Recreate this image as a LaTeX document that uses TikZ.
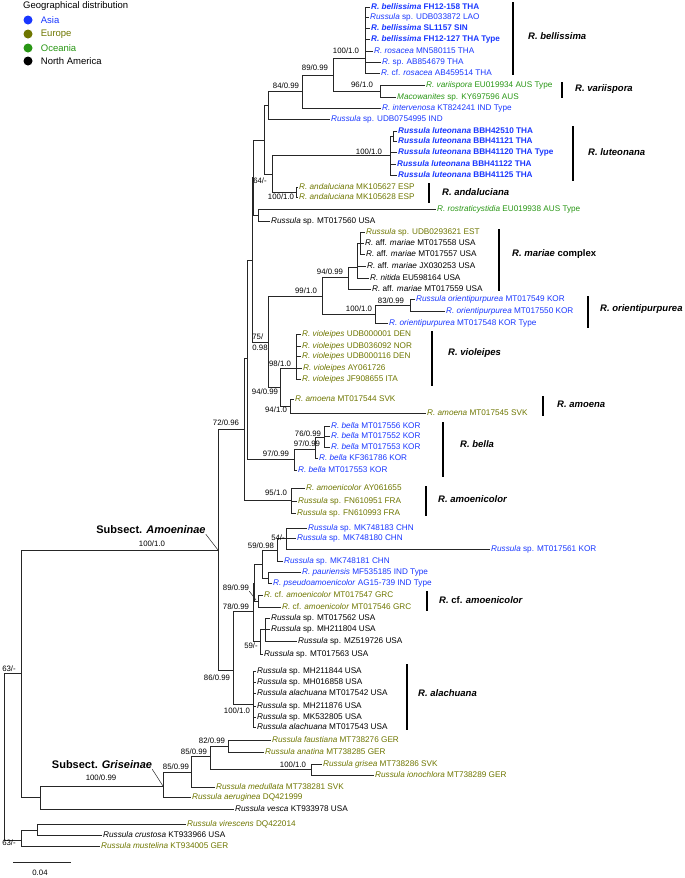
\documentclass[tikz,border=0pt]{standalone}
\usepackage{fontspec}
\setmainfont{Liberation Sans}
\usepackage{tikz}
\usetikzlibrary{positioning}

\definecolor{asiac}{RGB}{25,55,255}
\definecolor{europec}{RGB}{110,118,0}
\definecolor{oceaniac}{RGB}{40,150,20}

\begin{document}
\begin{tikzpicture}[x=1pt, y=-1pt]
        \tikzstyle{every node} = [font=\fontsize{8.2}{9.8}\selectfont]
        \tikzstyle{leaf} = [anchor=west, inner sep=1pt, text height=5.9pt, text depth=1.7pt]
        \tikzstyle{asia} = [leaf, text=asiac]
        \tikzstyle{asiab} = [leaf, text=asiac, font=\fontsize{8.2}{9.8}\selectfont\bfseries]
        \tikzstyle{euro} = [leaf, text=europec]
        \tikzstyle{ocea} = [leaf, text=oceaniac]
        \tikzstyle{amer} = [leaf, text=black]
        \tikzstyle{branch} = [draw=black!85, line width=0.7pt]
        \tikzstyle{supp} = [inner sep=0pt, font=\fontsize{7.8}{11}\selectfont]
        \tikzstyle{bar} = [line width=2.6pt]
        \tikzstyle{clade} = [anchor=west, inner sep=0pt, font=\fontsize{9.5}{11}\selectfont\bfseries\itshape]
        \tikzstyle{subsect} = [inner sep=0pt, font=\fontsize{11}{13}\selectfont\bfseries]
        \tikzstyle{dot} = [circle, inner sep=0pt, minimum size=9pt]

        \useasboundingbox (0,0) rectangle (685,878);

        \foreach \n/\x/\y in {bel/365/58, var/380/91, n89/333/75, n84/302/91, n268/268/105,
            lutA/393/136, lut/390/155, nand/296/192, n272/272/174, n264/264/140, n258/258/215,
            nx/253/177, mA/360/243, mar/357/267, n94/348/277, n83/410/305, nor/375/314,
            n99/322/296, vio/296/368, amo/290/406, n94b/280/387, n75/268/342, ny/252/260,
            n76/324/437, n97a/315/449, n97b/294/459, n247/247/358, amc/291/500, n244/244/429,
            n54/286/538, n59/277/550, pp/268/578, nd/262/564, cfa/258/601, n89b/254/583,
            nu1/265/629, nu/260/641, n78/253/611, ala/253/704, n86/233/670, n218/218/550,
            n82/228/746, ngr1/311/769, n85b/210/756, n85a/191/772, ngr/163/786, g0/40/797,
            nin/21/673, vc/37/830, og/21/840, root/4/757}
            \coordinate (\n) at (\x,\y);

        \foreach \n/\x/\y/\s/\t in {
            b1/370/7/asiab/{\textit{R. bellissima} FH12-158 THA},
            b2/369/17/asia/{\textit{Russula} sp. UDB033872 LAO},
            b3/370/28/asiab/{\textit{R. bellissima} SL1157 SIN},
            b4/370/39/asiab/{\textit{R. bellissima} FH12-127 THA Type},
            b5/373/51/asia/{\textit{R. rosacea} MN580115 THA},
            b6/381/62/asia/{\textit{R.} sp. AB854679 THA},
            b7/380/73/asia/{\textit{R.} cf. \textit{rosacea} AB459514 THA},
            v1/425/85/ocea/{\textit{R. variispora} EU019934 AUS Type},
            v2/396/97/ocea/{\textit{Macowanites} sp. KY697596 AUS},
            i1/381/108/asia/{\textit{R. intervenosa} KT824241 IND Type},
            i2/330/119/asia/{\textit{Russula} sp. UDB0754995 IND},
            l1/397/131/asiab/{\textit{Russula luteonana} BBH42510 THA},
            l2/397/141/asiab/{\textit{Russula luteonana} BBH41121 THA},
            l3/397/152/asiab/{\textit{Russula luteonana} BBH41120 THA Type},
            l4/396/164/asiab/{\textit{Russula luteonana} BBH41122 THA},
            l5/397/175/asiab/{\textit{Russula luteonana} BBH41125 THA},
            a1/298/187/euro/{\textit{R. andaluciana} MK105627 ESP},
            a2/298/197/euro/{\textit{R. andaluciana} MK105628 ESP},
            r1/436/209/ocea/{\textit{R. rostraticystidia} EU019938 AUS Type},
            r2/270/221/amer/{\textit{Russula} sp. MT017560 USA},
            m1/365/232/euro/{\textit{Russula} sp. UDB0293621 EST},
            m2/364/243/amer/{\textit{R.} aff. \textit{mariae} MT017558 USA},
            m3/365/254/amer/{\textit{R.} aff. \textit{mariae} MT017557 USA},
            m4/366/266/amer/{\textit{R.} aff. \textit{mariae} JX030253 USA},
            m5/369/278/amer/{\textit{R. nitida} EU598164 USA},
            m6/371/289/amer/{\textit{R.} aff. \textit{mariae} MT017559 USA},
            o1/415/299/asia/{\textit{Russula orientipurpurea} MT017549 KOR},
            o2/445/311/asia/{\textit{R. orientipurpurea} MT017550 KOR},
            o3/388/323/asia/{\textit{R. orientipurpurea} MT017548 KOR Type},
            w1/301/334/euro/{\textit{R. violeipes} UDB000001 DEN},
            w2/301/346/euro/{\textit{R. violeipes} UDB036092 NOR},
            w3/301/356/euro/{\textit{R. violeipes} UDB000116 DEN},
            w4/302/368/euro/{\textit{R. violeipes} AY061726},
            w5/301/379/euro/{\textit{R. violeipes} JF908655 ITA},
            e1/294/399/euro/{\textit{R. amoena} MT017544 SVK},
            e2/426/413/euro/{\textit{R. amoena} MT017545 SVK},
            k1/330/426/asia/{\textit{R. bella} MT017556 KOR},
            k2/330/436/asia/{\textit{R. bella} MT017552 KOR},
            k3/330/447/asia/{\textit{R. bella} MT017553 KOR},
            k4/318/458/asia/{\textit{R. bella} KF361786 KOR},
            k5/297/470/asia/{\textit{R. bella} MT017553 KOR},
            p1/305/488/euro/{\textit{R. amoenicolor} AY061655},
            p2/297/501/euro/{\textit{Russula} sp. FN610951 FRA},
            p3/296/513/euro/{\textit{Russula} sp. FN610993 FRA},
            c1/307/528/asia/{\textit{Russula} sp. MK748183 CHN},
            c2/296/538/asia/{\textit{Russula} sp. MK748180 CHN},
            c3/490/549/asia/{\textit{Russula} sp. MT017561 KOR},
            c4/283/561/asia/{\textit{Russula} sp. MK748181 CHN},
            c5/301/572/asia/{\textit{R. pauriensis} MF535185 IND Type},
            c6/272/583/asia/{\textit{R. pseudoamoenicolor} AG15-739 IND Type},
            f1/263/595/euro/{\textit{R.} cf. \textit{amoenicolor} MT017547 GRC},
            f2/281/607/euro/{\textit{R.} cf. \textit{amoenicolor} MT017546 GRC},
            u1/270/618/amer/{\textit{Russula} sp. MT017562 USA},
            u2/270/629/amer/{\textit{Russula} sp. MH211804 USA},
            u3/297/641/amer/{\textit{Russula} sp. MZ519726 USA},
            u4/263/654/amer/{\textit{Russula} sp. MT017563 USA},
            h1/256/671/amer/{\textit{Russula} sp. MH211844 USA},
            h2/256/682/amer/{\textit{Russula} sp. MH016858 USA},
            h3/256/693/amer/{\textit{Russula alachuana} MT017542 USA},
            h4/256/706/amer/{\textit{Russula} sp. MH211876 USA},
            h5/256/717/amer/{\textit{Russula} sp. MK532805 USA},
            h6/256/727/amer/{\textit{Russula alachuana} MT017543 USA},
            g1/271/740/euro/{\textit{Russula faustiana} MT738276 GER},
            g2/264/752/euro/{\textit{Russula anatina} MT738285 GER},
            g3/322/764/euro/{\textit{Russula grisea} MT738286 SVK},
            g4/374/775/euro/{\textit{Russula ionochlora} MT738289 GER},
            g5/215/787/euro/{\textit{Russula medullata} MT738281 SVK},
            g6/191/797/euro/{\textit{Russula aeruginea} DQ421999},
            g7/234/809/amer/{\textit{Russula vesca} KT933978 USA},
            q1/186/824/euro/{\textit{Russula virescens} DQ422014},
            q2/102/835/amer/{\textit{Russula crustosa} KT933966 USA},
            q3/100/846/euro/{\textit{Russula mustelina} KT934005 GER}}
            \node[\s] (\n) at (\x,\y) {\t};

        \foreach \p/\c in {bel/b1, bel/b2, bel/b3, bel/b4, bel/b5, bel/b6, bel/b7,
            var/v1, var/v2, n89/bel, n89/var, n84/n89, n84/i1, n268/n84, n268/i2,
            lutA/l1, lutA/l2, lut/lutA, lut/l3, lut/l4, lut/l5, nand/a1, nand/a2,
            n272/lut, n272/nand, n264/n268, n264/n272, n258/r1, n258/r2, nx/n264, nx/n258,
            mA/m1, mA/m2, mA/m3, mar/mA, mar/m4, mar/m5, n94/mar, n94/m6,
            n83/o1, n83/o2, nor/n83, nor/o3, n99/n94, n99/nor,
            vio/w1, vio/w2, vio/w3, vio/w4, vio/w5, amo/e1, amo/e2, n94b/vio, n94b/amo,
            n75/n99, n75/n94b, ny/nx, ny/n75,
            n76/k1, n76/k2, n76/k3, n97a/n76, n97a/k4, n97b/n97a, n97b/k5, n247/ny, n247/n97b,
            amc/p1, amc/p2, amc/p3, n244/n247, n244/amc,
            n54/c1, n54/c2, n54/c3, n59/n54, n59/c4, pp/c5, pp/c6, nd/n59, nd/pp,
            cfa/f1, cfa/f2, n89b/nd, n89b/cfa, nu1/u1, nu1/u2, nu1/u3, nu/nu1, nu/u4,
            n78/n89b, n78/nu, ala/h1, ala/h2, ala/h3, ala/h4, ala/h5, ala/h6,
            n86/n78, n86/ala, n218/n244, n218/n86,
            n82/g1, n82/g2, ngr1/g3, ngr1/g4, n85b/n82, n85b/ngr1, n85a/n85b, n85a/g5,
            ngr/n85a, ngr/g6, g0/ngr, g0/g7, nin/n218, nin/g0,
            vc/q1, vc/q2, og/vc, og/q3, root/nin, root/og}
            \draw[branch] (\p) |- (\c);

        \foreach \n/\x/\y/\t in {sbel/346/51/{100/1.0}, s89/315/68/{89/0.99}, svar/362/85/{96/1.0},
            s84/286/86/{84/0.99}, slut/369/152/{100/1.0}, s64/260/181/{64/-}, sand/281/197/{100/1.0},
            smar/330/272/{94/0.99}, s99/306/291/{99/1.0}, s83/391/301/{83/0.99}, sor/359/309/{100/1.0},
            svio/280/364/{98/1.0}, s94b/265/392/{94/0.99}, samo/276/410/{94/1.0}, s72/226/423/{72/0.96},
            s76/308/434/{76/0.99}, s97a/307/444/{97/0.99}, s97b/276/454/{97/0.99}, samc/276/493/{95/1.0},
            s218/152/544/{100/1.0}, s54/278/538/{54/-}, s59/261/546/{59/0.98}, s89b/236/588/{89/0.99},
            s78/236/607/{78/0.99}, su/251/646/{59/-}, s86/217/678/{86/0.99}, sala/237/711/{100/1.0},
            s63a/9/669/{63/-}, s82/212/741/{82/0.99}, s85b/194/752/{85/0.99}, s85a/176/767/{85/0.99},
            sgr1/293/765/{100/1.0}, sgr/101/778/{100/0.99}, s63b/9/843/{63/-}}
            \node[supp] (\n) at (\x,\y) {\t};
        \node[supp, align=left] (s75) at (260,342) {75/\\0.98};

        \coordinate (l89b) at (256,600);
        \draw[branch, line width=0.5pt] (s89b.south east) -- (l89b);

        \foreach \x/\a/\b in {513/2/75, 562/82/98, 573/126/181, 429/183/203, 499/229/291,
            588/296/328, 432/331/386, 543/396/416, 443/422/477, 426/486/516, 427/591/611, 407/664/730}
            \draw[bar] (\x,\a) -- (\x,\b);

        \foreach \n/\x/\y/\t in {cbel/528/36/{R. bellissima}, cvar/575/89/{R. variispora},
            clut/588/152/{R. luteonana}, cand/442/192/{R. andaluciana},
            cmar/512/254/{R. mariae \textup{complex}}, cor/600/309/{R. orientipurpurea},
            cvio/448/353/{R. violeipes}, camo/557/404/{R. amoena}, cbella/460/444/{R. bella},
            camc/438/499/{R. amoenicolor}, ccfa/439/600/{R. \textup{cf.} amoenicolor},
            cala/418/693/{R. alachuana}}
            \node[clade] (\n) at (\x,\y) {\t};

        \node[subsect] (subamo) at (151,530) {Subsect. \textit{Amoeninae}};
        \draw[branch, line width=0.5pt] (subamo.south east) -- (n218);
        \node[subsect] (subgri) at (102,765) {Subsect. \textit{Griseinae}};
        \draw[branch, line width=0.5pt] (subgri.south east) -- (ngr);

        \node[anchor=west, inner sep=0pt, font=\fontsize{9.5}{11}\selectfont] (legt) at (23,6) {Geographical distribution};
        \foreach \n/\y/\c/\t in {asia/20/asiac/Asia, euro/34/europec/Europe, ocea/48/oceaniac/Oceania, amer/61/black/North America} {
            \node[dot, fill=\c] (d\n) at (28,\y) {};
            \node[right=8pt of d\n, inner sep=0pt, text=\c, font=\fontsize{9.5}{11}\selectfont] (t\n) {\t};
        }

        \coordinate (sc1) at (13,862);
        \coordinate (sc2) at (71,862);
        \draw[branch] (sc1) -- (sc2);
        \node[supp] (sclab) at (40,873) {0.04};
    \end{tikzpicture}
\end{document}
